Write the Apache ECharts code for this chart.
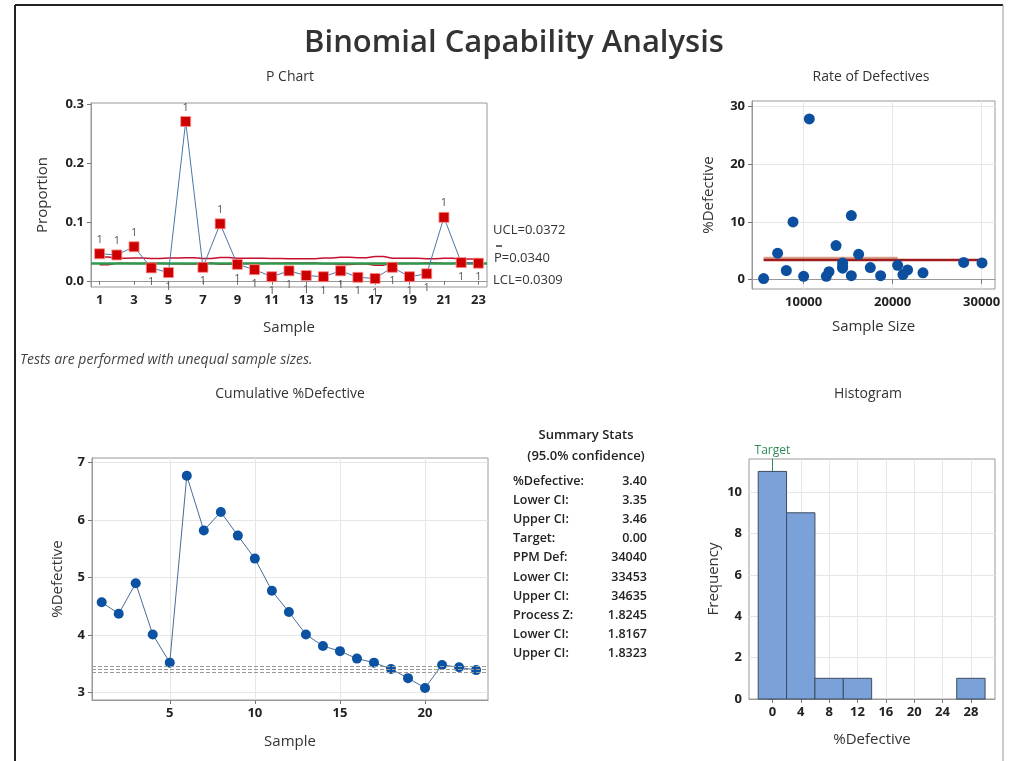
<!DOCTYPE html>
<html>
<head>
<meta charset="utf-8">
<title>Binomial Capability Analysis</title>
<script src="https://cdn.jsdelivr.net/npm/echarts@6/dist/echarts.min.js"></script>
<style>
html, body { margin: 0; padding: 0; background: #fff; }
#main { width: 1009px; height: 761px; }
</style>
</head>
<body>
<div id="main"></div>
<script>
// data
var sampleNo = [1, 2, 3, 4, 5, 6, 7, 8, 9, 10, 11, 12, 13, 14, 15, 16, 17, 18, 19, 20, 21, 22, 23];
var proportion = [0.046, 0.044, 0.058, 0.022, 0.014, 0.271, 0.023, 0.097, 0.028, 0.019, 0.007, 0.017,
                  0.009, 0.007, 0.017, 0.006, 0.004, 0.023, 0.007, 0.012, 0.108, 0.031, 0.030];
var uclValues = [0.0405, 0.0383, 0.0387, 0.0381, 0.0388, 0.0393, 0.0378, 0.0398, 0.0385, 0.0385, 0.0380, 0.0377,
                 0.0377, 0.0389, 0.0401, 0.0394, 0.0413, 0.0385, 0.0384, 0.0376, 0.0384, 0.0373, 0.0372];
var lclValues = [0.0275, 0.0297, 0.0293, 0.0299, 0.0292, 0.0287, 0.0302, 0.0282, 0.0295, 0.0295, 0.0300, 0.0303,
                 0.0303, 0.0292, 0.0279, 0.0286, 0.0267, 0.0295, 0.0296, 0.0304, 0.0296, 0.0307, 0.0309];
var pBar = 0.0340;

var sampleSize = [7079, 16180, 13640, 17490, 12850, 10640, 20560, 8809, 14380, 14380, 18650, 21680,
                  21160, 12550, 8056, 10000, 5506, 14380, 15360, 23410, 15360, 27980, 30040];
var pctDefective = [4.6, 4.4, 5.9, 2.1, 1.4, 27.8, 2.5, 10.0, 2.9, 2.0, 0.7, 1.7,
                    0.9, 0.6, 1.6, 0.6, 0.2, 2.3, 0.7, 1.2, 11.1, 3.0, 2.9];
var meanPct = 3.40;
var bandEnd = 20560;

var cumPctDefective = [4.57, 4.37, 4.90, 4.01, 3.52, 6.77, 5.82, 6.14, 5.73, 5.33, 4.77, 4.40,
                       4.01, 3.81, 3.72, 3.59, 3.52, 3.41, 3.25, 3.08, 3.48, 3.44, 3.39];
var ciLines = [3.35, 3.40, 3.46];

var binCenters = [0, 4, 8, 12, 16, 20, 24, 28];
var binCounts = [11, 9, 1, 1, 0, 0, 0, 1];
var binWidth = 4;
var target = 0;

var pTicks = [0, 0.1, 0.2, 0.3];
var sizeTicks = [10000, 20000, 30000];
var rateTicks = [0, 10, 20, 30];
var cumXTicks = [5, 10, 15, 20];
var cumYTicks = [3, 4, 5, 6, 7];
var freqTicks = [0, 2, 4, 6, 8, 10];

var statLabels = ['%Defective:', 'Lower CI:', 'Upper CI:', 'Target:', 'PPM Def:', 'Lower CI:', 'Upper CI:',
                  'Process Z:', 'Lower CI:', 'Upper CI:'];
var statValues = ['3.40', '3.35', '3.46', '0.00', '34040', '33453', '34635', '1.8245', '1.8167', '1.8323'];

var FONT = '"Open Sans", "Noto Sans", sans-serif';
var myChart = echarts.init(document.getElementById('main'));

function labelStyle() {
    return { fontFamily: FONT, fontSize: 13, fontWeight: 'bold', color: '#222', margin: 7 };
}
function nameStyle() {
    return { fontFamily: FONT, fontSize: 15, color: '#333' };
}
function plain(v) { return String(v); }
function valueAxis(grid, min, max, ticks, grids, name, gap, fmt) {
    var lab = labelStyle();
    lab.customValues = ticks;
    lab.formatter = fmt || plain;
    return {
        type: 'value', gridIndex: grid, min: min, max: max,
        name: name, nameLocation: 'middle', nameGap: gap, nameTextStyle: nameStyle(),
        axisLine: { show: true, lineStyle: { color: '#999' } },
        axisTick: { show: true, customValues: ticks, length: 4, lineStyle: { color: '#777' } },
        axisLabel: lab,
        splitLine: { show: grids, lineStyle: { color: '#e6e6e6', width: 1 } }
    };
}

// P chart points with their test labels
var pData = proportion.map(function (v, i) {
    return { value: v, label: { position: v > uclValues[i] ? 'top' : 'bottom' } };
});

// summary stats and headings as text
var texts = [
    ['Binomial Capability Analysis', 514, 43, 'center', '600 31px ' + FONT, '#333'],
    ['P Chart', 290, 77, 'center', '14px ' + FONT, '#333'],
    ['Rate of Defectives', 871, 77, 'center', '14px ' + FONT, '#333'],
    ['Tests are performed with unequal sample sizes.', 20, 360, 'left', 'italic 14px ' + FONT, '#444'],
    ['Cumulative %Defective', 290, 394, 'center', '14px ' + FONT, '#333'],
    ['Histogram', 868, 394, 'center', '14px ' + FONT, '#333'],
    ['UCL=' + uclValues[22].toFixed(4), 493, 230, 'left', '13px ' + FONT, '#333'],
    ['P=' + pBar.toFixed(4), 494, 258, 'left', '13px ' + FONT, '#333'],
    ['LCL=' + lclValues[22].toFixed(4), 493, 280, 'left', '13px ' + FONT, '#333'],
    ['Summary Stats', 586, 435, 'center', '600 13px ' + FONT, '#222'],
    ['(95.0% confidence)', 586, 456, 'center', '600 13px ' + FONT, '#222']
];
statLabels.forEach(function (s, i) {
    texts.push([s, 513, 481 + i * 19.2, 'left', '600 12.5px ' + FONT, '#222']);
    texts.push([statValues[i], 647, 481 + i * 19.2, 'right', '600 12.5px ' + FONT, '#222']);
});
var graphics = texts.map(function (t) {
    return { type: 'text', x: t[1], y: t[2], style: { text: t[0], textAlign: t[3], textVerticalAlign: 'middle', font: t[4], fill: t[5] } };
});
// bar over the P, and the frame
graphics.push({ type: 'line', shape: { x1: 496, y1: 246, x2: 502, y2: 246 }, style: { stroke: '#333', lineWidth: 1.5 } });
graphics.push({ type: 'line', shape: { x1: 15, y1: 5, x2: 15, y2: 761 }, style: { stroke: '#222', lineWidth: 2 } });
graphics.push({ type: 'line', shape: { x1: 15, y1: 5, x2: 1003, y2: 5 }, style: { stroke: '#222', lineWidth: 2 } });
graphics.push({ type: 'line', shape: { x1: 1003, y1: 5, x2: 1003, y2: 761 }, style: { stroke: '#999', lineWidth: 1 } });

var gridBase = { show: true, borderColor: '#999', borderWidth: 1, backgroundColor: '#fff', containLabel: false, outerBoundsMode: 'none' };

var option = {
    animation: false,
    backgroundColor: '#fff',
    graphic: graphics,
    grid: [
        Object.assign({ left: 91, top: 103, width: 396, height: 184 }, gridBase),
        Object.assign({ left: 752, top: 101, width: 243, height: 188 }, gridBase),
        Object.assign({ left: 92, top: 458, width: 396, height: 242 }, gridBase),
        Object.assign({ left: 749, top: 459, width: 246, height: 240 }, gridBase)
    ],
    xAxis: [
        {
            type: 'category', gridIndex: 0, data: sampleNo.map(String), boundaryGap: true,
            name: 'Sample', nameLocation: 'middle', nameGap: 33, nameTextStyle: nameStyle(),
            axisLine: { show: true, lineStyle: { color: '#999' } },
            axisTick: { show: true, alignWithLabel: true, interval: 1, length: 4, lineStyle: { color: '#777' } },
            axisLabel: Object.assign(labelStyle(), { interval: 1 }),
            splitLine: { show: false }
        },
        valueAxis(1, 4200, 31500, sizeTicks, true, 'Sample Size', 30),
        valueAxis(2, 0.43, 23.7, cumXTicks, true, 'Sample', 34),
        valueAxis(3, -3.3, 31.4, binCenters, true, '%Defective', 33)
    ],
    yAxis: [
        valueAxis(0, -0.0105, 0.3025, pTicks, false, 'Proportion', 41, function (v) { return v.toFixed(1); }),
        valueAxis(1, -1.6, 30.9, rateTicks, true, '%Defective', 36),
        valueAxis(2, 2.87, 7.08, cumYTicks, true, '%Defective', 27),
        valueAxis(3, 0, 11.6, freqTicks, true, 'Frequency', 28)
    ],
    series: [
        // P chart
        {
            type: 'line', xAxisIndex: 0, yAxisIndex: 0, data: uclValues, step: 'middle',
            symbol: 'none', lineStyle: { color: '#c8102e', width: 1.5 }, z: 2, silent: true,
            markLine: {
                silent: true, symbol: 'none', label: { show: false },
                lineStyle: { color: '#2e9a4e', width: 2.5, type: 'solid' },
                data: [{ yAxis: pBar }]
            }
        },
        {
            type: 'line', xAxisIndex: 0, yAxisIndex: 0, data: lclValues, step: 'middle',
            symbol: 'none', lineStyle: { color: '#c8102e', width: 1.5 }, z: 2, silent: true
        },
        {
            type: 'line', xAxisIndex: 0, yAxisIndex: 0, data: pData, z: 5,
            symbol: 'rect', symbolSize: 10,
            itemStyle: { color: '#cc0000', borderColor: 'rgba(255,140,140,0.8)', borderWidth: 1 },
            lineStyle: { color: '#4a79a8', width: 1 },
            label: { show: true, formatter: '1', distance: 3, fontFamily: FONT, fontSize: 11, color: '#555' }
        },
        // rate of defectives
        {
            type: 'line', xAxisIndex: 1, yAxisIndex: 1, symbol: 'none', silent: true,
            data: [[Math.min.apply(null, sampleSize), meanPct + 0.3], [bandEnd, meanPct + 0.3]],
            lineStyle: { color: 'rgba(205,130,100,0.75)', width: 3 }, z: 2
        },
        {
            type: 'line', xAxisIndex: 1, yAxisIndex: 1, symbol: 'none', silent: true,
            data: [[Math.min.apply(null, sampleSize), meanPct], [Math.max.apply(null, sampleSize), meanPct]],
            lineStyle: { color: '#a01c1c', width: 2.5 }, z: 3
        },
        {
            type: 'scatter', xAxisIndex: 1, yAxisIndex: 1, symbolSize: 11, z: 4,
            data: sampleSize.map(function (n, i) { return [n, pctDefective[i]]; }),
            itemStyle: { color: '#0b4f9e', opacity: 1 }
        },
        // cumulative %defective
        {
            type: 'line', xAxisIndex: 2, yAxisIndex: 2, z: 4,
            data: sampleNo.map(function (s, i) { return [s, cumPctDefective[i]]; }),
            symbol: 'circle', symbolSize: 10, itemStyle: { color: '#0b52a3' },
            lineStyle: { color: '#4a6d96', width: 1 },
            markLine: {
                silent: true, symbol: 'none', label: { show: false },
                lineStyle: { color: '#999', width: 1, type: [4, 2] },
                data: ciLines.map(function (v) { return { yAxis: v }; })
            }
        },
        // histogram
        {
            type: 'line', xAxisIndex: 3, yAxisIndex: 3, data: [], z: 1,
            markLine: {
                silent: true, symbol: 'none', z: 1,
                lineStyle: { color: '#2e8b57', width: 1, type: 'solid' },
                label: { show: true, position: 'end', formatter: 'Target', color: '#2e8b57', fontFamily: FONT, fontSize: 12, distance: 2 },
                data: [{ xAxis: target }]
            }
        },
        {
            type: 'custom', xAxisIndex: 3, yAxisIndex: 3, z: 6,
            data: binCenters.map(function (c, i) { return [c - binWidth / 2, c + binWidth / 2, binCounts[i]]; })
                .filter(function (d) { return d[2] > 0; }),
            encode: { x: [0, 1], y: 2 },
            renderItem: function (params, api) {
                var p0 = api.coord([api.value(0), api.value(2)]);
                var p1 = api.coord([api.value(1), 0]);
                return {
                    type: 'rect',
                    shape: { x: p0[0], y: p0[1], width: p1[0] - p0[0], height: p1[1] - p0[1] },
                    style: { fill: '#7aa2d8', stroke: '#3d4b60', lineWidth: 1 }
                };
            }
        }
    ]
};

myChart.setOption(option);
</script>
</body>
</html>
